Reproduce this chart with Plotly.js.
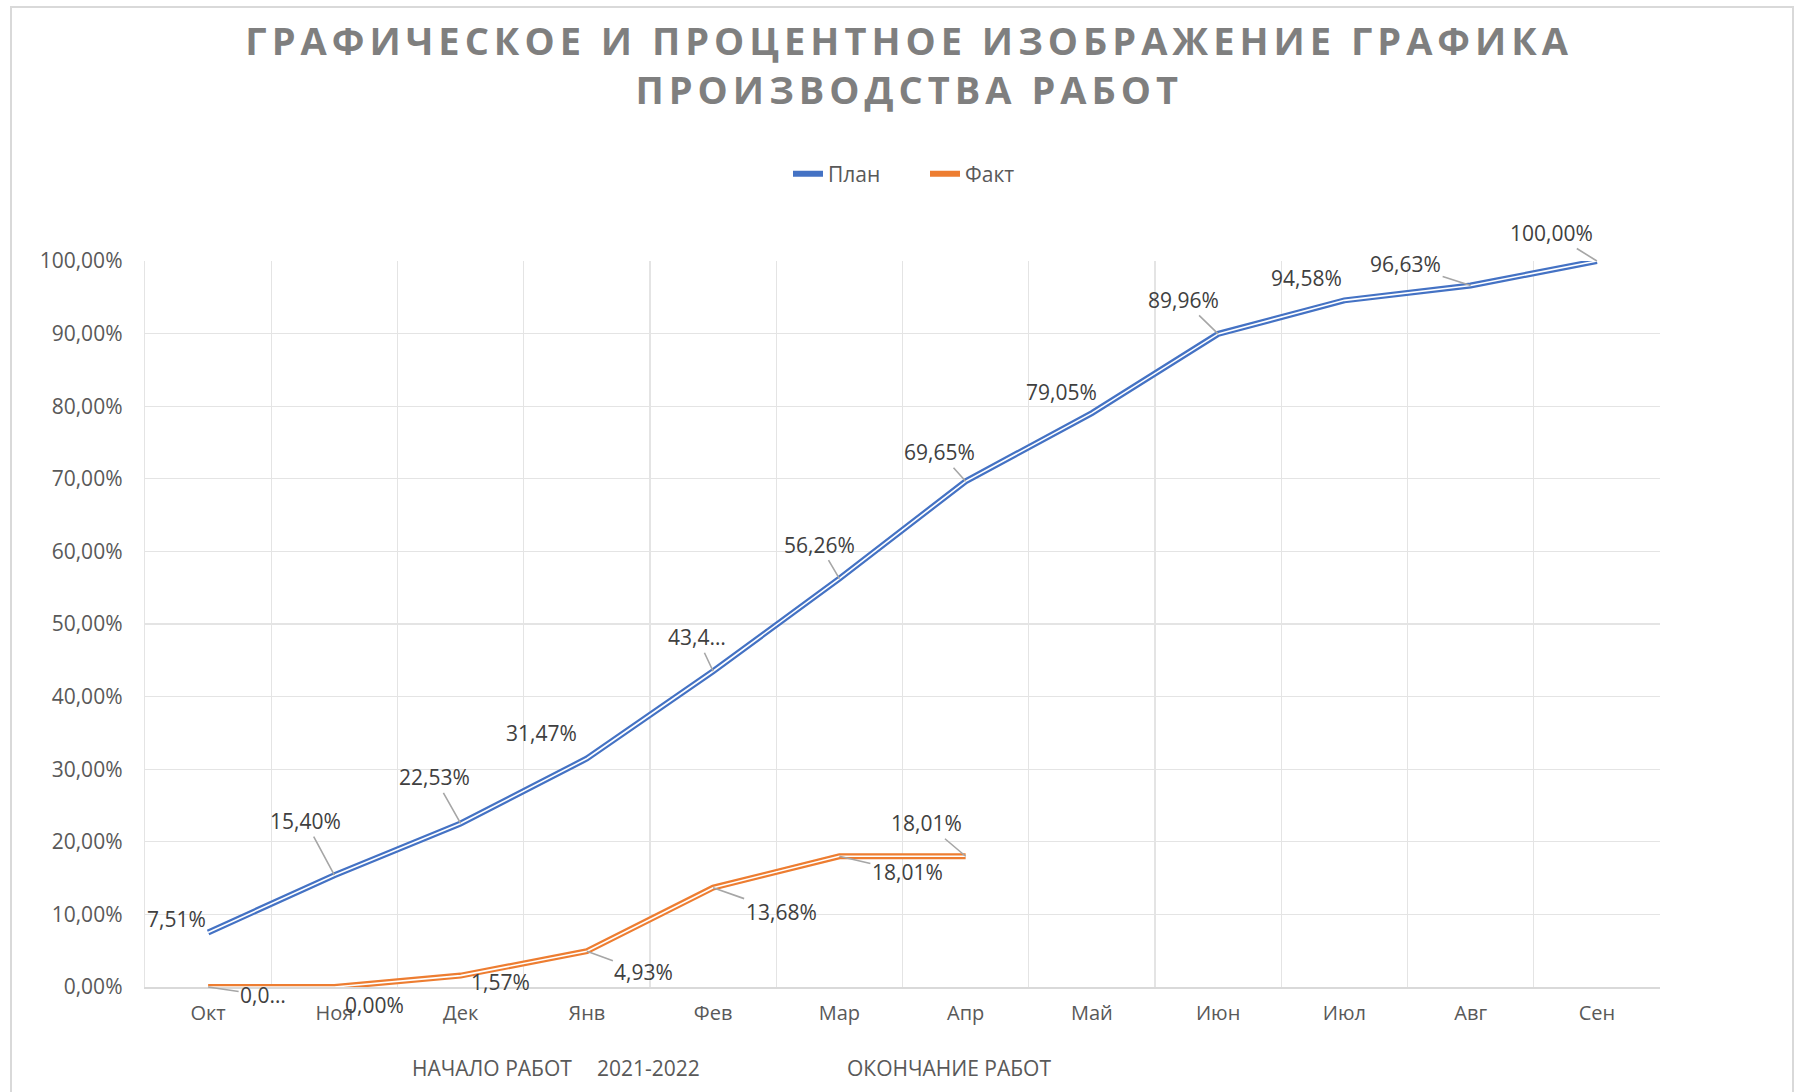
<!DOCTYPE html>
<html>
<head>
<meta charset="utf-8">
<script src="https://cdn.plot.ly/plotly-3.0.1.min.js"></script>
<style>
  html, body { margin: 0; padding: 0; background: #ffffff; overflow: hidden; }
  #chart { width: 1804px; height: 1092px; }
  #frame { position: absolute; left: 10px; top: 6px; width: 1784px; height: 1200px;
           box-sizing: border-box; border: 2px solid #d9d9d9; pointer-events: none; }
  .gtitle { letter-spacing: 5px; }
</style>
</head>
<body>
<div id="chart"></div>
<div id="frame"></div>
<script>
// ---- data ----
const months = ['Окт','Ноя','Дек','Янв','Фев','Мар','Апр','Май','Июн','Июл','Авг','Сен'];
const planValues = [7.51, 15.40, 22.53, 31.47, 43.49, 56.26, 69.65, 79.05, 89.96, 94.58, 96.63, 100.00];
const factValues = [0.00, 0.00, 1.57, 4.93, 13.68, 18.01, 18.01];
const seriesNames = ['План', 'Факт'];
const yTickValues = [0, 10, 20, 30, 40, 50, 60, 70, 80, 90, 100];
const bottomTexts = ['НАЧАЛО РАБОТ', '2021-2022', 'ОКОНЧАНИЕ РАБОТ'];

// ---- label styling (offsets in px, leader line shown, truncation length) ----
const planLabelStyle = [
  [-32,-13,false,0], [-29,-54,true,0], [-26,-46,true,0], [-45,-26,false,0],
  [-16,-34,true,4],  [-20,-34,true,0], [-26,-29,true,0], [-30,-21,false,0],
  [-35,-34,true,0],  [-38,-22,false,0], [-65,-21,true,0], [-45,-28,true,0]
];
const factLabelStyle = [
  [55,8,true,3], [40,18,false,0], [40,6,false,0], [57,21,true,0],
  [68,24,true,0], [68,16,true,0], [-39,-33,true,0]
];
const bottomTextX = [410, 595, 845];

const BLUE = '#4472C4', ORANGE = '#ED7D31';
const FONT = '"Open Sans", "Noto Sans", sans-serif';

function fmt(v, trunc) {
  let s = v.toFixed(2).replace('.', ',') + '%';
  if (trunc) s = s.slice(0, trunc) + '…';
  return s;
}

const planX = months.slice(0, planValues.length);
const factX = months.slice(0, factValues.length);

const traces = [
  {x: planX, y: planValues, type: 'scatter', mode: 'lines', name: seriesNames[0],
   line: {color: BLUE, width: 6}, hoverinfo: 'skip'},
  {x: planX, y: planValues, type: 'scatter', mode: 'lines', showlegend: false,
   line: {color: '#ffffff', width: 1.6}, hoverinfo: 'skip'},
  {x: factX, y: factValues, type: 'scatter', mode: 'lines', name: seriesNames[1],
   line: {color: ORANGE, width: 6}, hoverinfo: 'skip'},
  {x: factX, y: factValues, type: 'scatter', mode: 'lines', showlegend: false,
   line: {color: '#ffffff', width: 1.6}, hoverinfo: 'skip'}
];

const L = 145, R = 144, T = 261, B = 105;
const plotW = 1804 - L - R, plotH = 1092 - T - B;

const annotations = [];
function addLabels(xs, vals, style) {
  vals.forEach((v, i) => {
    const st = style[i];
    annotations.push({
      x: xs[i], y: v, xref: 'x', yref: 'y',
      text: fmt(v, st[3]),
      showarrow: true, arrowhead: 0, arrowwidth: 1.6,
      arrowcolor: st[2] ? '#a6a6a6' : 'rgba(0,0,0,0)',
      ax: st[0], ay: st[1], standoff: 0,
      font: {family: FONT, size: 21, color: '#404040'}
    });
  });
}
addLabels(planX, planValues, planLabelStyle);
addLabels(factX, factValues, factLabelStyle);

bottomTexts.forEach((t, i) => {
  annotations.push({
    text: t, xref: 'paper', yref: 'paper',
    x: (bottomTextX[i] - L) / plotW, y: (1 - (1068 - T) / plotH),
    xanchor: 'left', yanchor: 'middle', showarrow: false,
    font: {family: FONT, size: 21, color: '#595959'}
  });
});

const layout = {
  width: 1804, height: 1092,
  margin: {l: L, r: R, t: T, b: B, pad: 0},
  paper_bgcolor: '#ffffff', plot_bgcolor: '#ffffff',
  title: {
    text: 'ГРАФИЧЕСКОЕ И ПРОЦЕНТНОЕ ИЗОБРАЖЕНИЕ ГРАФИКА<br>ПРОИЗВОДСТВА РАБОТ',
    font: {family: FONT, size: 38, color: '#7f7f7f', weight: 'bold'},
    x: 0.504, xanchor: 'center', y: 1 - 55 / 1092, yanchor: 'middle', yref: 'container'
  },
  showlegend: true,
  legend: {
    orientation: 'h', x: (925 - L) / plotW, xanchor: 'center',
    y: 1 + (T - 174) / plotH, yanchor: 'middle',
    entrywidth: 92, entrywidthmode: 'pixels',
    font: {family: FONT, size: 21, color: '#595959'},
    bgcolor: 'rgba(0,0,0,0)'
  },
  xaxis: {
    type: 'category', categoryarray: months, categoryorder: 'array',
    range: [-0.5, months.length - 0.5],
    tickson: 'boundaries', ticks: '', showgrid: true, gridcolor: '#e4e4e4', gridwidth: 1.3,
    showline: true, linecolor: '#d9d9d9', linewidth: 1.5, mirror: false,
    tickfont: {family: FONT, size: 20, color: '#595959'},
    ticklabelstandoff: 7, fixedrange: true
  },
  yaxis: {
    range: [0, 100], tickvals: yTickValues, ticktext: yTickValues.map(v => fmt(v)),
    showgrid: true, gridcolor: '#e4e4e4', gridwidth: 1.3,
    zeroline: false, showline: true, linecolor: '#e4e4e4', linewidth: 1.3,
    ticks: '', tickfont: {family: FONT, size: 21, color: '#595959'},
    ticklabelstandoff: 17, fixedrange: true
  },
  annotations: annotations
};

Plotly.newPlot('chart', traces, layout, {displayModeBar: false, staticPlot: true});
</script>
</body>
</html>
